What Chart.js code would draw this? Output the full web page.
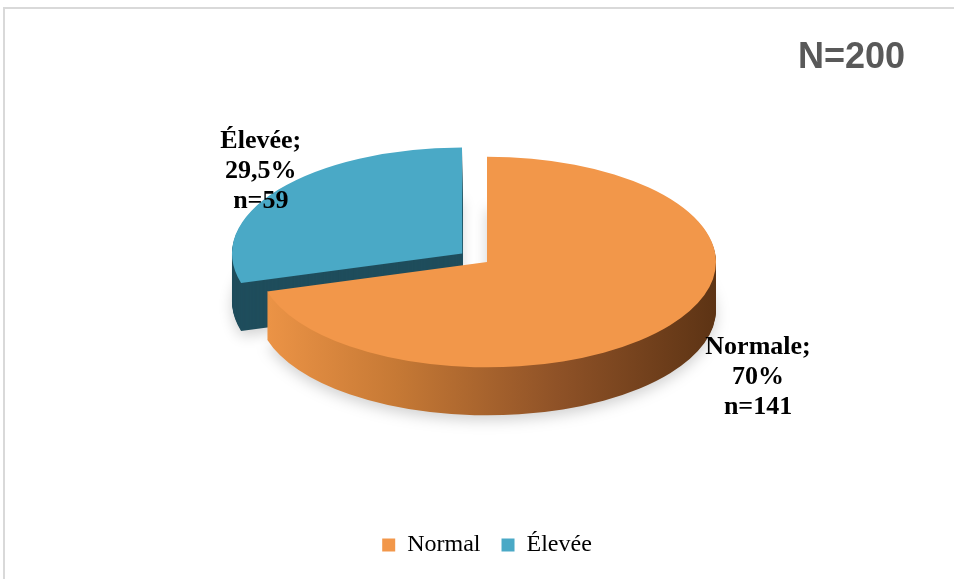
<!DOCTYPE html>
<html lang="fr">
<head>
<meta charset="utf-8">
<title>Tension artérielle</title>
<script src="https://cdn.jsdelivr.net/npm/chart.js@4.4.1/dist/chart.umd.min.js"></script>
<style>
    html, body { margin: 0; padding: 0; background: #fff; }
    #wrap { position: relative; width: 954px; height: 579px; overflow: hidden; }
    #frame {
        position: absolute; left: 3px; top: 7px; width: 1000px; height: 700px;
        border-top: 2px solid #d9d9d9; border-left: 2px solid #d9d9d9;
    }
    #pieChart { position: absolute; left: 0; top: 0; }
</style>
</head>
<body>
<div id="wrap">
    <div id="frame"></div>
    <canvas id="pieChart" width="954" height="579"></canvas>
</div>
<script>
// Categories and counts
const legendNames = ['Normal', 'Élevée'];
const labelNames = ['Normale', 'Élevée'];
const counts = [141, 59];
const pctLabels = ['70%', '29,5%'];

// Look of the pseudo-3D pie
const TILT = 0.46;
const DEPTH = 48;
const topColors = ['#F2974A', '#4AA9C6'];
const labelSpots = [[1.48, 1.78], [1.10, 1.33]];

function squash(ctx, cx, cy) {
    ctx.translate(cx, cy);
    ctx.scale(1, TILT);
    ctx.translate(-cx, -cy);
}

function sideFills(ctx) {
    const orange = ctx.createLinearGradient(258, 0, 718, 0);
    orange.addColorStop(0, '#EE9547');
    orange.addColorStop(0.3, '#C67935');
    orange.addColorStop(0.65, '#8F5227');
    orange.addColorStop(1, '#5C3314');
    return [orange, '#1F4D5C'];
}

// Extrudes every slice downwards, then squashes the tops into an ellipse
const pieDepth = {
    id: 'pieDepth',
    beforeDatasetsDraw(chart) {
        const ctx = chart.ctx;
        const arcs = chart.getDatasetMeta(0).data;
        const cx = arcs[0].x, cy = arcs[0].y;
        const fills = sideFills(ctx);
        for (let d = DEPTH; d > 0; d--) {
            arcs.forEach((arc, i) => {
                ctx.save();
                if (d === DEPTH) {
                    ctx.shadowColor = 'rgba(0,0,0,0.18)';
                    ctx.shadowBlur = 14;
                    ctx.shadowOffsetY = 5;
                }
                ctx.translate(0, d);
                squash(ctx, cx, cy);
                const keep = arc.options.backgroundColor;
                arc.options.backgroundColor = fills[i];
                arc.draw(ctx);
                arc.options.backgroundColor = keep;
                ctx.restore();
            });
        }
        ctx.save();
        squash(ctx, cx, cy);
    },
    afterDatasetsDraw(chart) {
        chart.ctx.restore();
    }
};

// Slice labels and the total in the corner
const pieLabels = {
    id: 'pieLabels',
    afterDraw(chart) {
        const ctx = chart.ctx;
        const arcs = chart.getDatasetMeta(0).data;
        ctx.save();
        ctx.fillStyle = '#000';
        ctx.font = 'bold 26px "Liberation Serif", "Times New Roman", serif';
        ctx.textAlign = 'center';
        ctx.textBaseline = 'alphabetic';
        arcs.forEach((arc, i) => {
            const mid = (arc.startAngle + arc.endAngle) / 2;
            const shift = (arc.options.offset || 0) / 4;
            const ox = arc.x + Math.cos(mid) * shift;
            const oy = arc.y + Math.sin(mid) * shift * TILT;
            const r = arc.outerRadius;
            const x = ox + Math.cos(mid) * r * labelSpots[i][0];
            const y = oy + Math.sin(mid) * r * TILT * labelSpots[i][1];
            const lines = [labelNames[i] + ';', pctLabels[i], 'n=' + counts[i]];
            lines.forEach((t, k) => ctx.fillText(t, x, y + 9 + (k - 1) * 30));
        });
        const total = counts.reduce((a, b) => a + b, 0);
        ctx.fillStyle = '#595959';
        ctx.font = 'bold 36px "Liberation Sans", Arial, sans-serif';
        ctx.textAlign = 'right';
        ctx.fillText('N=' + total, chart.width - 49, 68);
        ctx.restore();
    }
};

new Chart(document.getElementById('pieChart'), {
    type: 'pie',
    data: {
        labels: legendNames,
        datasets: [{
            data: counts,
            backgroundColor: topColors,
            borderWidth: 0,
            offset: [0, 124],
            radius: 229
        }]
    },
    options: {
        responsive: false,
        animation: false,
        events: [],
        layout: { padding: { left: 20, right: 0, top: 12, bottom: 12 } },
        plugins: {
            legend: {
                position: 'bottom',
                labels: {
                    boxWidth: 13,
                    boxHeight: 13,
                    padding: 21,
                    color: '#000',
                    font: { family: '"Liberation Serif", "Times New Roman", serif', size: 24 }
                }
            },
            tooltip: { enabled: false }
        }
    },
    plugins: [pieDepth, pieLabels]
});
</script>
</body>
</html>
